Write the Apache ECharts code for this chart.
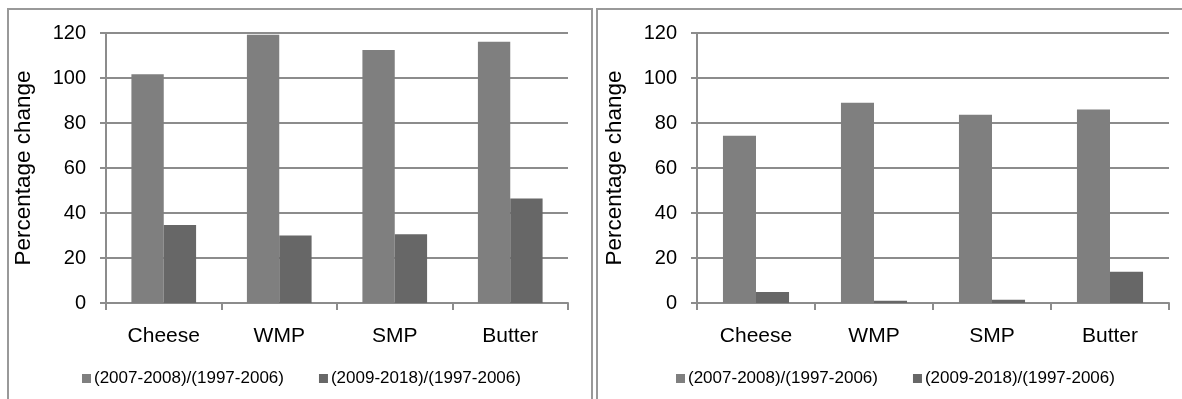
<!DOCTYPE html>
<html>
<head>
  <meta charset="utf-8">
  <title>Dairy price change</title>
  <script src="https://cdn.jsdelivr.net/npm/echarts@6/dist/echarts.min.js"></script>
  <style>
    html, body { margin: 0; padding: 0; background: #fff; }
    #chart { width: 1182px; height: 399px; }
  </style>
</head>
<body>
<div id="chart"></div>
<script>
var categories = ["Cheese", "WMP", "SMP", "Butter"];
var seriesNames = ["(2007-2008)/(1997-2006)", "(2009-2018)/(1997-2006)"];
var yTicks = [0, 20, 40, 60, 80, 100, 120];

// left panel
var leftFirst = [101.7, 119.2, 112.4, 116.1];
var leftSecond = [34.7, 30.0, 30.6, 46.5];
// right panel
var rightFirst = [74.3, 89.0, 83.7, 86.0];
var rightSecond = [4.9, 1.0, 1.5, 13.9];

var font = "Liberation Sans, Arial, sans-serif";
var lineGray = "#8c8c8c";
var barColors = ["#7f7f7f", "#676767"];

function xAxisGen(idx) {
    return {
        type: "category",
        gridIndex: idx,
        data: categories,
        axisLine: { lineStyle: { color: lineGray, width: 2 } },
        axisTick: { show: true, length: 7, lineStyle: { color: lineGray, width: 2 } },
        axisLabel: { color: "#000", fontSize: 21, fontFamily: font, margin: 23 }
    };
}

function yAxisGen(idx) {
    return {
        type: "value",
        gridIndex: idx,
        min: yTicks[0],
        max: yTicks[yTicks.length - 1],
        interval: yTicks[1] - yTicks[0],
        name: "Percentage change",
        nameLocation: "middle",
        nameGap: 71,
        nameTextStyle: { color: "#000", fontSize: 22.5, fontFamily: font },
        axisLine: { show: true, lineStyle: { color: lineGray, width: 2 } },
        axisTick: { show: true, length: 6, lineStyle: { color: lineGray, width: 2 } },
        axisLabel: { color: "#000", fontSize: 20, fontFamily: font, margin: 20 },
        splitLine: { lineStyle: { color: lineGray, width: 2 } }
    };
}

function barGen(name, values, idx, color) {
    return {
        name: name,
        type: "bar",
        xAxisIndex: idx,
        yAxisIndex: idx,
        data: values,
        barGap: "0%",
        barCategoryGap: "44%",
        itemStyle: { color: color },
        emphasis: { disabled: true }
    };
}

function legendGen(left) {
    return {
        left: left,
        top: 365,
        data: seriesNames,
        itemWidth: 9,
        itemHeight: 9,
        itemGap: 35,
        icon: "rect",
        selectedMode: false,
        textStyle: { color: "#000", fontSize: 17, fontFamily: font, padding: [0, 0, 0, -2] }
    };
}

var myChart = echarts.init(document.getElementById("chart"), null, { renderer: "canvas" });
var option = {
    animation: false,
    backgroundColor: "#fff",
    grid: [
        { left: 106, right: 614, top: 33, bottom: 96 },
        { left: 697, right: 13, top: 33, bottom: 96 }
    ],
    xAxis: [xAxisGen(0), xAxisGen(1)],
    yAxis: [yAxisGen(0), yAxisGen(1)],
    legend: [legendGen(77), legendGen(671)],
    series: [
        barGen(seriesNames[0], leftFirst, 0, barColors[0]),
        barGen(seriesNames[1], leftSecond, 0, barColors[1]),
        barGen(seriesNames[0], rightFirst, 1, barColors[0]),
        barGen(seriesNames[1], rightSecond, 1, barColors[1])
    ],
    graphic: [
        // panel frames
        { type: "rect", shape: { x: 8, y: 9, width: 584, height: 420 }, style: { fill: null, stroke: "#999", lineWidth: 2 }, silent: true },
        { type: "rect", shape: { x: 597, y: 9, width: 600, height: 420 }, style: { fill: null, stroke: "#999", lineWidth: 2 }, silent: true }
    ]
};
myChart.setOption(option);
</script>
</body>
</html>
